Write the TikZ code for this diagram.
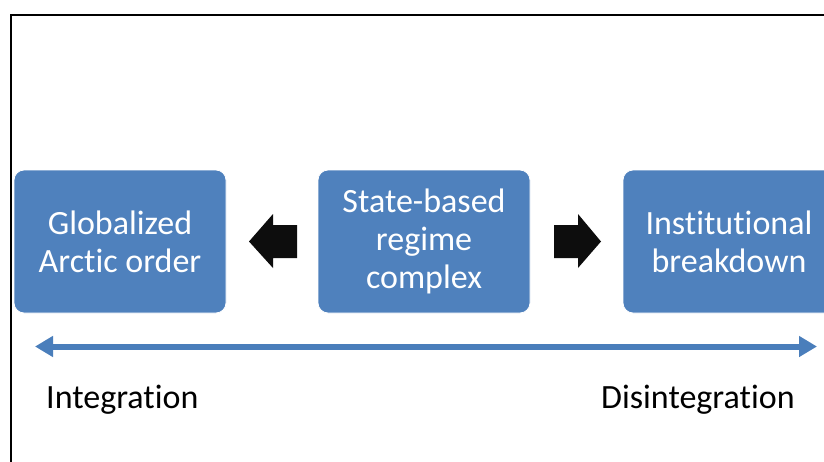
\documentclass[tikz,border=0pt]{standalone}
\usepackage{fontspec}
\setmainfont{Carlito}[RawFeature={-liga}]
\usetikzlibrary{arrows.meta}
\definecolor{boxblue}{HTML}{4F81BD}
\definecolor{lineblue}{HTML}{4A7EBB}
\definecolor{blk}{HTML}{0D0D0D}
\begin{document}
\begin{tikzpicture}[x=1pt,y=-1pt,
  stagebox/.style={fill=boxblue, draw=white, line width=0.8pt, rounded corners=10pt,
    minimum width=212pt, minimum height=143pt, inner sep=0pt, align=center,
    text=white, font=\fontsize{34}{38}\selectfont},
  label text/.style={anchor=base west, inner sep=0pt, text=black, font=\fontsize{34}{38}\selectfont},
  blockarrow/.style={fill=blk},
  scale arrow/.style={draw=lineblue, line width=6pt, {Triangle[length=18pt,width=20pt]}-{Triangle[length=18pt,width=20pt]}}
]
\clip (0,0) rectangle (824,461);
\fill[white] (0,0) rectangle (824,461);
% frame
\draw[black, line width=2pt] (10.5,470) -- (10.5,15) -- (830,15);
% boxes
\node[stagebox] (glob) at (120,241.5) {Globalized\\Arctic order};
\node[stagebox] (state) at (424,241.5) {State-based\\regime\\complex};
\node[stagebox] (inst) at (729,241.5) {Institutional\\breakdown};
% block arrows
\fill[blockarrow] (297,225) -- (273,225) -- (273,214) -- (249,241.5) -- (273,268) -- (273,258) -- (297,258) -- cycle;
\fill[blockarrow] (554,225) -- (578,225) -- (578,214) -- (601,241.5) -- (578,268) -- (578,258) -- (554,258) -- cycle;
% scale arrow
\coordinate (left) at (35,346.5);
\coordinate (right) at (817,346.5);
\draw[scale arrow] (left) -- (right);
% labels
\node[label text] (integ) at (46,408) {Integration};
\node[label text] (disinteg) at (601,408) {Disintegration};
\end{tikzpicture}
\end{document}
